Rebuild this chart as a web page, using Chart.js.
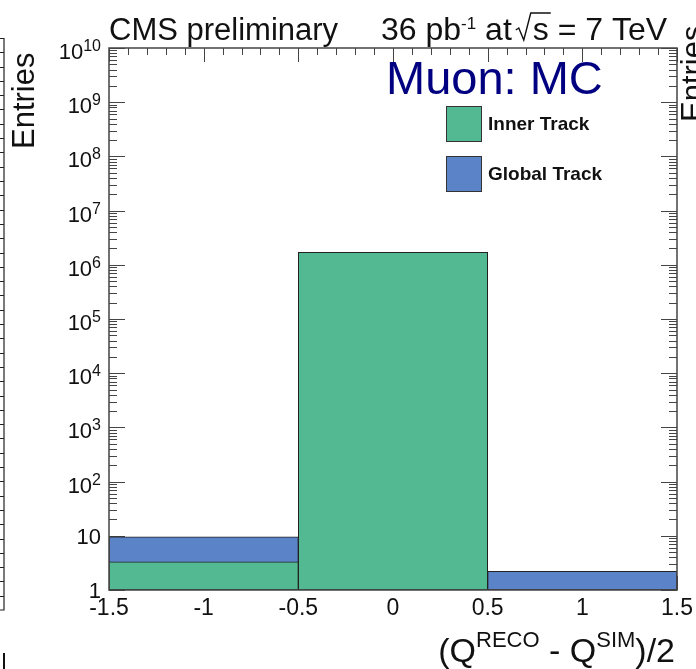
<!DOCTYPE html>
<html>
<head>
<meta charset="utf-8">
<script src="https://cdn.jsdelivr.net/npm/chart.js@4.4.1/dist/chart.umd.min.js"></script>
<style>
    html, body { margin: 0; padding: 0; background: #fff; }
    #wrap { width: 696px; height: 669px; }
</style>
</head>
<body>
<div id="wrap"><canvas id="chargeChart" width="696" height="669"></canvas></div>
<script>
// --- Data ---
const binCenters = [-1, 0, 1];
const innerTrack = [3.3, 1.7e6, null];
const globalTrack = [9.6, 1.7e6, 2.2];
const seriesLabels = ['Inner Track', 'Global Track'];
const xTickValues = [-1.5, -1, -0.5, 0, 0.5, 1, 1.5];
const yTickExponents = [0, 1, 2, 3, 4, 5, 6, 7, 8, 9, 10];

const FONT = '"Liberation Sans", Arial, Helvetica, sans-serif';
const GREEN = '#52b992';
const BLUE = '#5b84c8';
const INK = '#111';

// --- Helpers ---
const drawRich = (ctx, x, y, parts) => {
    parts.forEach(p => {
        ctx.font = `${p.bold ? 'bold ' : ''}${p.size}px ${FONT}`;
        ctx.fillText(p.text, x, y - (p.rise || 0));
        x += ctx.measureText(p.text).width;
    });
    return x;
};
const measureRich = (ctx, parts) => {
    let w = 0;
    parts.forEach(p => {
        ctx.font = `${p.bold ? 'bold ' : ''}${p.size}px ${FONT}`;
        w += ctx.measureText(p.text).width;
    });
    return w;
};

// --- ROOT-style ticks, drawn under the histograms ---
const rootTicks = {
    id: 'rootTicks',
    beforeDatasetsDraw(chart) {
        const { ctx, chartArea: a, scales: { x, y } } = chart;
        ctx.save();
        ctx.strokeStyle = '#444';
        ctx.lineWidth = 1;
        ctx.beginPath();
        // x: major every 0.5, minor every 0.1
        for (let i = -15; i <= 15; i++) {
            const px = Math.round(x.getPixelForValue(i / 10)) + 0.5;
            const len = i % 5 === 0 ? 14 : 7;
            ctx.moveTo(px, a.top); ctx.lineTo(px, a.top + len);
            ctx.moveTo(px, a.bottom); ctx.lineTo(px, a.bottom - len);
        }
        // y: decades plus 2..9
        yTickExponents.forEach(e => {
            for (let m = 1; m <= 9; m++) {
                const v = m * Math.pow(10, e);
                if (v > y.max) break;
                const py = Math.round(y.getPixelForValue(v)) + 0.5;
                const len = m === 1 ? 16 : 8;
                ctx.moveTo(a.left, py); ctx.lineTo(a.left + len, py);
                ctx.moveTo(a.right, py); ctx.lineTo(a.right - len, py);
            }
        });
        ctx.stroke();
        ctx.restore();
    }
};

// --- Frame, labels, legend and texts ---
const rootDecor = {
    id: 'rootDecor',
    afterDraw(chart) {
        const { ctx, chartArea: a, scales: { x, y } } = chart;
        ctx.save();

        // frame
        ctx.strokeStyle = '#444';
        ctx.lineWidth = 1.5;
        ctx.strokeRect(a.left, a.top, a.right - a.left, a.bottom - a.top);

        ctx.fillStyle = INK;
        ctx.textBaseline = 'alphabetic';

        // y tick labels
        yTickExponents.forEach(e => {
            const py = y.getPixelForValue(Math.pow(10, e));
            let parts;
            if (e === 0) parts = [{ text: '1', size: 22 }];
            else if (e === 1) parts = [{ text: '10', size: 22 }];
            else parts = [{ text: '10', size: 22 }, { text: String(e), size: 16, rise: 8 }];
            const w = measureRich(ctx, parts);
            const dy = e <= 1 ? 8 : 11;
            drawRich(ctx, 101 - w, py + dy, parts);
        });

        // x tick labels
        ctx.font = `23px ${FONT}`;
        ctx.textAlign = 'center';
        xTickValues.forEach(v => {
            ctx.fillText(String(v), x.getPixelForValue(v), 615);
        });
        ctx.textAlign = 'left';

        // x axis title, right aligned
        const xTitle = [
            { text: '(Q', size: 34 },
            { text: 'RECO', size: 22, rise: 15 },
            { text: ' - Q', size: 34 },
            { text: 'SIM', size: 22, rise: 15 },
            { text: ')/2', size: 34 }
        ];
        drawRich(ctx, 675 - measureRich(ctx, xTitle), 662, xTitle);

        // y axis title
        ctx.save();
        ctx.translate(34, 149);
        ctx.rotate(-Math.PI / 2);
        ctx.font = `31px ${FONT}`;
        ctx.fillText('Entries', 0, 0);
        ctx.restore();

        // header
        ctx.font = `31px ${FONT}`;
        ctx.fillText('CMS preliminary', 109, 40);
        let cx = drawRich(ctx, 381, 40, [
            { text: '36 pb', size: 32 },
            { text: '-1', size: 17, rise: 11 },
            { text: ' at', size: 32 }
        ]);
        cx += 2;
        // radical sign over s
        ctx.font = `32px ${FONT}`;
        const sW = ctx.measureText('s').width;
        ctx.strokeStyle = INK;
        ctx.lineWidth = 1.4;
        ctx.beginPath();
        ctx.moveTo(cx + 2, 30);
        ctx.lineTo(cx + 5, 28);
        ctx.lineTo(cx + 10, 40);
        ctx.lineTo(cx + 17, 13);
        ctx.lineTo(cx + 19 + sW + 2, 13);
        ctx.stroke();
        drawRich(ctx, cx + 19, 40, [{ text: 's = 7 TeV', size: 32 }]);

        // Muon: MC
        ctx.fillStyle = '#000080';
        ctx.font = `47px ${FONT}`;
        ctx.fillText('Muon: MC', 386, 94);

        // legend
        chart.data.datasets.forEach((ds, i) => {
            const top = 106 + i * 50;
            ctx.fillStyle = ds.backgroundColor;
            ctx.fillRect(446, top, 35, 35);
            ctx.strokeStyle = '#333';
            ctx.lineWidth = 1;
            ctx.strokeRect(446.5, top + 0.5, 35, 35);
            ctx.fillStyle = INK;
            ctx.font = `bold 19px ${FONT}`;
            ctx.fillText(ds.label, 488, top + 24);
        });

        // pieces of the neighbouring pads
        ctx.strokeStyle = '#222';
        ctx.lineWidth = 1.2;
        ctx.beginPath();
        ctx.moveTo(4, 38); ctx.lineTo(4, 610); ctx.lineTo(0, 610);
        for (let ty = 38; ty < 610; ty += 14.3) {
            ctx.moveTo(0, Math.round(ty) + 0.5); ctx.lineTo(4, Math.round(ty) + 0.5);
        }
        ctx.stroke();
        ctx.fillStyle = INK;
        ctx.fillRect(3, 653, 2, 16);
        ctx.save();
        ctx.translate(703, 122);
        ctx.rotate(-Math.PI / 2);
        ctx.font = `31px ${FONT}`;
        ctx.fillText('Entries', 0, 0);
        ctx.restore();

        ctx.restore();
    }
};

document.addEventListener('DOMContentLoaded', () => {
    const ctx = document.getElementById('chargeChart').getContext('2d');

    new Chart(ctx, {
        type: 'bar',
        data: {
            datasets: [
                {
                    label: seriesLabels[0],
                    data: binCenters.map((c, i) => ({ x: c, y: innerTrack[i] })),
                    backgroundColor: GREEN,
                    borderColor: '#222',
                    borderWidth: 1,
                    borderSkipped: false,
                    order: 0
                },
                {
                    label: seriesLabels[1],
                    data: binCenters.map((c, i) => ({ x: c, y: globalTrack[i] })),
                    backgroundColor: BLUE,
                    borderColor: '#222',
                    borderWidth: 1,
                    borderSkipped: false,
                    order: 1
                }
            ]
        },
        options: {
            responsive: false,
            animation: false,
            devicePixelRatio: 1,
            layout: { padding: { left: 109, right: 19, top: 48, bottom: 79 } },
            datasets: {
                bar: { grouped: false, barPercentage: 1, categoryPercentage: 1 }
            },
            plugins: {
                legend: { display: false },
                title: { display: false },
                tooltip: { enabled: false }
            },
            scales: {
                x: {
                    type: 'linear',
                    min: -1.5,
                    max: 1.5,
                    offset: false,
                    display: false,
                    // one tick per bin so the bars span a full bin width
                    afterBuildTicks: (scale) => {
                        scale.ticks = binCenters.map(v => ({ value: v }));
                    }
                },
                y: {
                    type: 'logarithmic',
                    min: 1,
                    max: 1e10,
                    display: false
                }
            }
        },
        plugins: [rootTicks, rootDecor]
    });
});
</script>
</body>
</html>
